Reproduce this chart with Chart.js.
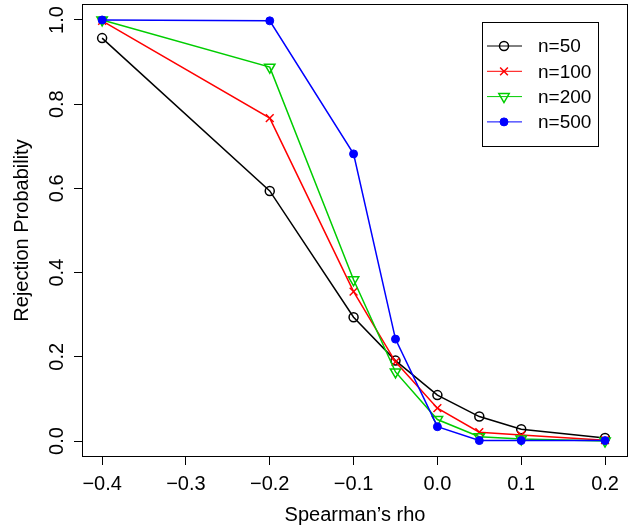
<!DOCTYPE html>
<html>
<head>
<meta charset="utf-8">
<script src="https://cdn.jsdelivr.net/npm/chart.js@4.4.1/dist/chart.umd.min.js"></script>
<style>
  body { margin: 0; background: #fff; }
  #wrap { width: 634px; height: 529px; }
</style>
</head>
<body>
<div id="wrap"><canvas id="myChart" width="634" height="529"></canvas></div>
<script>
// values
var rho = [-0.4, -0.2, -0.1, -0.05, 0, 0.05, 0.1, 0.2];
var n50 = [0.957, 0.594, 0.294, 0.191, 0.109, 0.058, 0.028, 0.007];
var n100 = [0.998, 0.767, 0.355, 0.188, 0.078, 0.021, 0.014, 0.002];
var n200 = [1.0, 0.888, 0.383, 0.164, 0.051, 0.010, 0.005, 0.0];
var n500 = [1.0, 0.998, 0.682, 0.242, 0.034, 0.001, 0.001, 0.001];
var xTicks = [-0.4, -0.3, -0.2, -0.1, 0, 0.1, 0.2];
var yTicks = [0, 0.2, 0.4, 0.6, 0.8, 1.0];
var seriesNames = ['n=50', 'n=100', 'n=200', 'n=500'];

var FONT = '"Liberation Sans", Arial, sans-serif';

function pts(vals) {
  return vals.map(function (v, i) { return { x: rho[i], y: v }; });
}

function fmt(v) {
  var s = v.toFixed(1);
  return s.replace('-', '\u2212');
}

var extras = {
  id: 'extras',
  afterDraw: function (chart) {
    var ctx = chart.ctx;
    var a = chart.chartArea;
    var ys = chart.scales.y;
    ctx.save();
    // plot box
    ctx.strokeStyle = '#000';
    ctx.lineWidth = 1;
    ctx.strokeRect(Math.round(a.left) + 0.5, Math.round(a.top) + 0.5,
      Math.round(a.right - a.left) - 1, Math.round(a.bottom - a.top) - 1);

    // y tick labels, rotated like R
    ctx.fillStyle = '#000';
    ctx.font = '20px ' + FONT;
    ctx.textAlign = 'center';
    ctx.textBaseline = 'middle';
    yTicks.forEach(function (v) {
      var py = ys.getPixelForValue(v);
      ctx.save();
      ctx.translate(57, py);
      ctx.rotate(-Math.PI / 2);
      ctx.fillText(v.toFixed(1), 0, 0);
      ctx.restore();
    });

    // axis titles
    ctx.save();
    ctx.translate(22, (a.top + a.bottom) / 2);
    ctx.rotate(-Math.PI / 2);
    ctx.fillText('Rejection Probability', 0, 0);
    ctx.restore();
    ctx.fillText('Spearman\u2019s rho', (a.left + a.right) / 2, 515);

    // legend
    ctx.font = '19px ' + FONT;
    ctx.strokeStyle = '#000';
    ctx.lineWidth = 1;
    ctx.strokeRect(482.5, 22.5, 116, 124);
    chart.data.datasets.forEach(function (ds, i) {
      var y = 46 + 25.3 * i;
      ctx.strokeStyle = ds.borderColor;
      ctx.fillStyle = ds.pointBackgroundColor;
      ctx.lineWidth = 1;
      ctx.beginPath();
      ctx.moveTo(487, y);
      ctx.lineTo(522, y);
      ctx.stroke();
      ctx.lineWidth = ds.pointBorderWidth;
      Chart.helpers.drawPoint(ctx, {
        pointStyle: ds.pointStyle,
        radius: ds.pointRadius,
        rotation: ds.pointRotation || 0,
        borderWidth: ds.pointBorderWidth
      }, 504, y);
      ctx.fillStyle = '#000';
      ctx.textAlign = 'left';
      ctx.textBaseline = 'middle';
      ctx.fillText(ds.label, 538, y + 1);
    });
    ctx.restore();
  }
};

var ctx = document.getElementById('myChart');
var myChart = new Chart(ctx, {
  type: 'line',
  data: {
    datasets: [
      {
        label: seriesNames[0], data: pts(n50), order: 4,
        borderColor: '#000000', pointBackgroundColor: 'rgba(0,0,0,0)',
        pointStyle: 'circle', pointRadius: 4.5, pointBorderWidth: 1.5
      },
      {
        label: seriesNames[1], data: pts(n100), order: 3,
        borderColor: '#FF0000', pointBackgroundColor: 'rgba(0,0,0,0)',
        pointStyle: 'crossRot', pointRadius: 5.5, pointBorderWidth: 1.5
      },
      {
        label: seriesNames[2], data: pts(n200), order: 2,
        borderColor: '#00CD00', pointBackgroundColor: 'rgba(0,0,0,0)',
        pointStyle: 'triangle', pointRotation: 180, pointRadius: 6, pointBorderWidth: 1.5
      },
      {
        label: seriesNames[3], data: pts(n500), order: 1,
        borderColor: '#0000FF', pointBackgroundColor: '#0000FF',
        pointStyle: 'circle', pointRadius: 4, pointBorderWidth: 1
      }
    ]
  },
  options: {
    responsive: false,
    animation: false,
    layout: { autoPadding: false, padding: { top: 4, right: 6, left: 0, bottom: 0 } },
    elements: {
      line: { borderWidth: 1.5, tension: 0, fill: false },
      point: { hoverRadius: 4 }
    },
    plugins: {
      legend: { display: false },
      tooltip: { enabled: false }
    },
    scales: {
      x: {
        type: 'linear',
        min: -0.424,
        max: 0.2274,
        afterBuildTicks: function (s) {
          s.ticks = xTicks.map(function (v) { return { value: v }; });
        },
        afterFit: function (s) { s.height = 72; },
        grid: { display: true, drawOnChartArea: false, drawTicks: true, tickLength: 8, color: '#000', lineWidth: 1 },
        border: { display: false },
        ticks: {
          color: '#000',
          font: { family: FONT, size: 20 },
          padding: 7,
          maxRotation: 0,
          autoSkip: false,
          callback: function (v) { return fmt(v); }
        }
      },
      y: {
        min: -0.038,
        max: 1.038,
        afterBuildTicks: function (s) {
          s.ticks = yTicks.map(function (v) { return { value: v }; });
        },
        afterFit: function (s) { s.width = 82; },
        grid: { display: true, drawOnChartArea: false, drawTicks: true, tickLength: 8, color: '#000', lineWidth: 1 },
        border: { display: false },
        ticks: { display: false }
      }
    }
  },
  plugins: [extras]
});
</script>
</body>
</html>
